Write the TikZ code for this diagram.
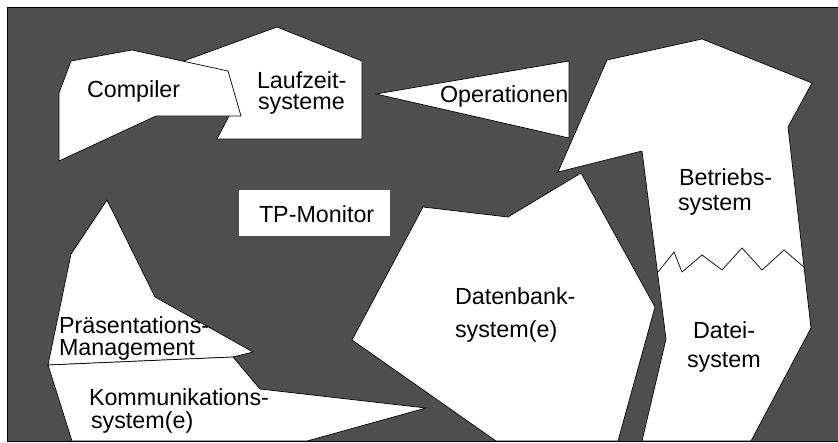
\documentclass[tikz,border=0pt]{standalone}
\usepackage{fontspec}
\setmainfont{Liberation Sans}
\definecolor{bgdark}{RGB}{79,79,79}
\tikzset{
  blob/.style={fill=white, draw=black, line width=0.7pt, line join=miter},
  lbl/.style={anchor=base west, inner sep=0pt, outer sep=0pt, font=\fontsize{23.3}{27}\selectfont, text=black},
  frameline/.style={draw=black, line width=0.9pt}
}
\begin{document}
\begin{tikzpicture}[x=1pt,y=-1pt]
\useasboundingbox (0,0) rectangle (838,442);
% frame
\fill[bgdark] (7,7) rectangle (838,441);
\draw[frameline] (838,7) -- (7,7) -- (7,441) -- (838,441);
% Laufzeitsysteme (behind Compiler)
\draw[blob] (277,27) -- (362,61) -- (362,139) -- (217,139) -- (229,116) -- (200,90) -- (170,66) -- cycle;
% Compiler
\draw[blob] (71,61) -- (132,50) -- (228,71) -- (241,116) -- (156,116) -- (59,161) -- (59,93) -- cycle;
% Operationen
\draw[blob] (376,94) -- (569,61) -- (569,138) -- cycle;
% Betriebssystem / Dateisystem
\draw[blob] (607,60) -- (702,39) -- (812,83) -- (788,127) -- (811,328) -- (751,441) -- (642,441) -- (666,339) -- (642,151) -- (558,172) -- cycle;
\draw[line width=0.7pt] (658,272) -- (674,252) -- (682,272) -- (702,255) -- (722,270) -- (742,248) -- (762,270) -- (784,250) -- (805,268);
% Datenbanksystem
\draw[blob] (423,207) -- (508,217) -- (581,173) -- (655,307) -- (618,441) -- (496,441) -- (352,340) -- cycle;
% Praesentations-Management
\draw[blob] (107,200) -- (155,297) -- (253,352) -- (233,357) -- (48,365) -- (71,254) -- cycle;
% Kommunikationssystem
\draw[blob] (48,365) -- (233,357) -- (260,389) -- (426,408) -- (307,441) -- (72,441) -- cycle;
% TP-Monitor box
\fill[white] (239,190) rectangle (390,236);
% redraw bottom frame line over shapes
\draw[frameline] (7,441) -- (838,441);
% labels
\node[lbl] (comp) at (87,97) {Compiler};
\node[lbl] (lz1) at (257,88) {Laufzeit-};
\node[lbl] (lz2) at (258,109) {systeme};
\node[lbl] (ops) at (440,102) {Operationen};
\node[lbl] (bs1) at (679,185) {Betriebs-};
\node[lbl] (bs2) at (678,210) {system};
\node[lbl] (tp) at (259,222) {TP-Monitor};
\node[lbl] (db1) at (455,304) {Datenbank-};
\node[lbl] (db2) at (455,337) {system(e)};
\node[lbl] (df1) at (693,338) {Datei-};
\node[lbl] (df2) at (687,367) {system};
\node[lbl] (pm1) at (59,333) {Präsentations-};
\node[lbl] (pm2) at (59,355) {Management};
\node[lbl] (ks1) at (89,405) {Kommunikations-};
\node[lbl] (ks2) at (91,428) {system(e)};
\end{tikzpicture}
\end{document}
